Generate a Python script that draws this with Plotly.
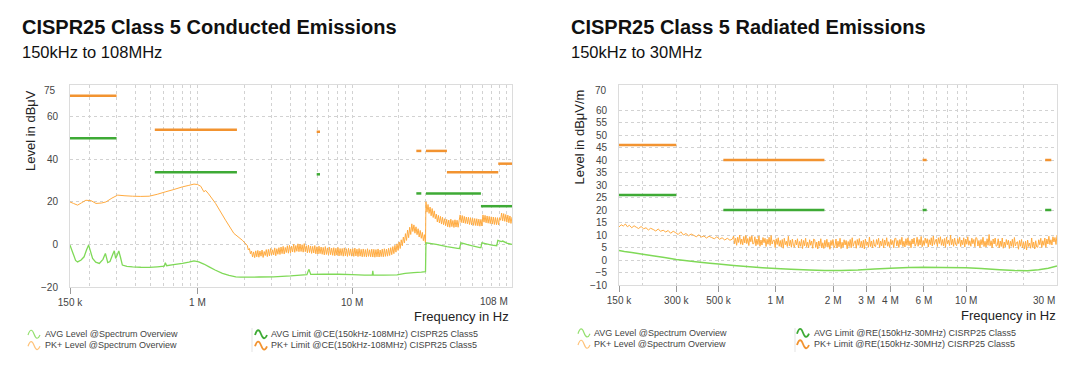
import math
import plotly.graph_objects as go

W, H = 1080, 378

# ---------------- Conducted emissions (left) : frequency in MHz, level in dBuV
ce_pk_smooth_f = [0.15, 0.158, 0.168, 0.178, 0.19, 0.205, 0.221, 0.24, 0.256, 0.28, 0.305, 0.34,
                  0.381, 0.43, 0.487, 0.55, 0.624, 0.7, 0.8, 0.88, 0.95, 1.0, 1.05, 1.1, 1.13,
                  1.18, 1.31, 1.52, 1.72, 1.95]
ce_pk_smooth_v = [20.0, 19.3, 18.5, 19.6, 20.8, 20.6, 19.3, 19.5, 20.0, 21.8, 23.2, 22.9,
                  22.7, 22.6, 22.7, 23.6, 24.8, 25.8, 27.1, 27.8, 28.4, 28.2, 27.4, 24.8, 25.4,
                  23.8, 19.3, 11.4, 5.2, 2.0]
# PK+ sweep 2.1 MHz .. 29.8 MHz (log spaced sweep points)
ce_pk_sweep1_range = [2.1, 29.8]
ce_pk_sweep1_v = [
    -0.5, -2.6, -1.9, -4.4, -3.1, -5.9, -3.5, -6.2, -3.0, -5.8,
    -2.8, -6.0, -3.1, -5.5, -2.6, -6.1, -3.3, -5.2, -2.4, -5.7,
    -2.3, -5.4, -1.9, -5.0, -2.5, -4.9, -1.6, -5.3, -2.0, -4.6,
    -1.5, -4.7, -1.2, -4.3, -0.9, -4.5, -1.4, -3.8, -0.6, -4.1,
    -0.4, -3.9, -0.8, -3.5, 0.1, -3.7, -0.5, -3.2, 0.3, -3.4,
    0.2, -3.3, -0.1, -3.6, 0.4, -3.4, -0.6, -3.9, -0.3, -3.8,
    -0.7, -4.2, -0.9, -4.0, -0.5, -4.4, -1.1, -4.5, -0.8, -4.3,
    -1.2, -4.6, -1.4, -4.9, -1.0, -4.7, -1.6, -5.0, -1.3, -4.8,
    -1.7, -5.1, -1.5, -5.3, -1.8, -5.0, -1.4, -5.4, -1.9, -5.2,
    -1.9, -5.5, -1.6, -5.3, -2.0, -5.6, -1.8, -5.2, -2.1, -5.5,
    -2.0, -5.6, -1.7, -5.4, -2.2, -5.7, -1.9, -5.5, -2.3, -5.8,
    -2.1, -5.7, -2.4, -5.9, -2.0, -5.6, -2.5, -5.8, -2.2, -5.9,
    -2.3, -6.0, -2.4, -5.8, -2.1, -5.9, -2.6, -5.7, -2.2, -5.8,
    -2.0, -5.6, -2.2, -5.5, -1.8, -5.2, -1.5, -4.8, -1.0, -4.3,
    -0.4, -3.6, 0.3, -2.8, 1.2, -1.9, 2.2, -0.6, 3.5, 0.7,
    5.1, 1.9, 6.8, 3.2, 8.1, 4.7, 9.7, 6.1, 9.2, 5.3,
    8.3, 4.6, 7.4, 3.5, 6.6, 2.9, 5.7, 1.8, 4.6, 0.4]
# PK+ sweep 30 MHz .. 108 MHz
ce_pk_sweep2_range = [30.0, 108.0]
ce_pk_sweep2_v = [
    20.1, 15.2, 18.8, 14.6, 17.6, 13.5, 16.9, 12.7, 15.8, 12.1,
    14.3, 10.6, 13.7, 10.1, 13.2, 9.6, 12.8, 9.3, 12.1, 8.9,
    11.8, 8.3, 11.5, 8.1, 11.9, 8.4, 11.3, 8.0, 11.6, 8.2,
    11.4, 8.1, 11.2, 13.9, 10.3, 13.6, 10.1, 13.2, 9.9, 12.9,
    9.7, 12.8, 9.4, 12.6, 9.2, 12.3, 9.0, 12.2, 8.9, 12.1,
    8.8, 11.9, 8.6, 11.8, 8.7, 13.9, 10.5, 13.7, 10.2, 13.4,
    10.0, 13.2, 9.8, 13.0, 9.6, 12.9, 9.4, 12.7, 9.3, 12.6,
    9.2, 12.5, 11.4, 14.8, 11.1, 14.5, 10.9, 14.1, 10.5, 13.8,
    10.2, 13.4, 9.9, 12.9]

ce_avg_f = [0.15, 0.157, 0.163, 0.168, 0.177, 0.185, 0.192, 0.198, 0.204, 0.21, 0.22, 0.232,
            0.245, 0.254, 0.259, 0.263, 0.272, 0.284, 0.29, 0.296, 0.303, 0.31, 0.318, 0.327,
            0.35, 0.381, 0.43, 0.487, 0.55, 0.61, 0.62, 0.632, 0.7, 0.8, 0.88, 0.95, 1.02,
            1.1, 1.19, 1.3, 1.45, 1.6, 1.77, 1.9, 2.5, 3.1, 4.0, 5.1, 5.25, 5.4, 6.5, 8.2,
            10.0, 12.0, 13.5, 13.6, 13.7, 16.0, 19.5, 22.0, 25.0, 28.0, 29.8,
            30.0, 35.0, 41.0, 48.0, 49.5, 50.5, 55.0, 60.0, 67.0, 68.0, 69.0, 75.0, 80.0,
            86.0, 87.5, 92.0, 94.0, 100.0, 108.0]
ce_avg_v = [-0.3, -4.2, -7.5, -8.2, -7.3, -5.8, -2.5, -0.3, -3.5, -6.6, -8.3, -8.9,
            -7.0, -4.2, -6.5, -8.5, -8.0, -4.5, -3.0, -6.6, -5.0, -3.0, -6.0, -9.7,
            -10.3, -10.5, -10.7, -10.8, -10.5, -10.2, -8.6, -10.0, -9.5, -8.9, -8.3, -7.7, -8.2,
            -9.2, -10.5, -12.0, -13.6, -14.5, -15.2, -15.4, -15.3, -15.2, -14.8, -14.2, -11.7, -14.1, -14.0, -14.0,
            -14.2, -14.4, -14.4, -12.4, -14.4, -14.4, -14.3, -13.6, -13.2, -13.0, -12.8,
            0.8, 0.0, -1.0, -1.8, -1.9, 0.8, 0.0, -0.7, -1.5, -1.5, 0.8, 0.2, -0.3,
            -0.6, 1.9, 1.4, 1.6, 0.6, 0.0]

ce_pk_lim_start = [0.15, 0.53, 5.9, 26, 30, 41, 88]
ce_pk_lim_stop = [0.30, 1.8, 6.2, 28, 41, 88, 108]
ce_pk_lim_level = [70, 54, 53, 44, 44, 34, 38]
ce_avg_lim_start = [0.15, 0.53, 5.9, 26, 30, 68]
ce_avg_lim_stop = [0.30, 1.8, 6.2, 28, 68, 108]
ce_avg_lim_level = [50, 34, 33, 24, 24, 18]

ce_xtick_vals = [0.15, 1, 10]
ce_xtick_text = ["150 k", "1 M", "10 M"]
ce_ytick_vals = [-20, 0, 20, 40, 60]

# ---------------- Radiated emissions (right) : frequency in MHz, level in dBuV/m
re_pk_low_f = [0.150, 0.154, 0.158, 0.162, 0.166, 0.170, 0.175, 0.180, 0.185, 0.190, 0.196, 0.202,
               0.208, 0.214, 0.220, 0.227, 0.234, 0.241, 0.248, 0.256, 0.264, 0.272, 0.280, 0.289,
               0.298, 0.307, 0.317, 0.327, 0.337, 0.348, 0.359, 0.370, 0.382, 0.394, 0.406, 0.419,
               0.432, 0.446, 0.460, 0.475, 0.490, 0.506, 0.522, 0.539, 0.556, 0.574, 0.592]
re_pk_low_v = [13.2, 14.1, 13.6, 14.4, 13.3, 13.9, 12.9, 13.7, 13.1, 12.6, 13.4, 12.5,
               12.9, 12.0, 12.7, 12.2, 11.6, 12.4, 11.5, 11.9, 11.2, 11.8, 10.7, 11.5,
               10.9, 10.2, 11.3, 10.0, 10.6, 9.7, 10.4, 9.9, 9.3, 10.1, 9.2, 9.6,
               8.8, 9.5, 9.0, 8.5, 9.3, 8.3, 8.9, 8.0, 8.7, 7.9, 8.4]
# dense PK+ sweep 0.6 MHz .. 30 MHz
re_pk_sweep_range = [0.6, 30.0]
re_pk_sweep_v = [
    9.6, 6.5, 8.7, 5.9, 9.1, 7.0, 10.0, 6.3, 8.4, 6.1, 9.4, 6.8, 9.8, 6.6, 8.6, 5.8, 9.3, 7.3, 9.7, 6.4,
    6.6, 9.3, 5.7, 8.4, 6.2, 9.6, 5.5, 8.0, 6.0, 9.0, 6.9, 8.7, 5.4, 8.3, 6.3, 9.1, 5.8, 9.8, 6.4, 7.8,
    8.0, 5.0, 8.5, 6.2, 8.9, 5.5, 7.8, 5.2, 8.2, 4.7, 8.7, 6.1, 7.5, 5.4, 9.5, 5.7, 7.9, 5.1, 8.4, 5.9,
    5.1, 8.0, 6.0, 8.5, 4.8, 7.4, 5.5, 8.3, 4.6, 7.8, 5.7, 8.7, 5.3, 7.1, 4.9, 8.1, 5.9, 7.6, 4.7, 8.4,
    8.1, 5.0, 7.2, 4.4, 7.6, 5.5, 8.5, 4.8, 6.9, 4.6, 7.9, 5.3, 8.3, 5.1, 7.1, 4.3, 7.8, 5.8, 8.2, 4.9,
    5.7, 8.4, 4.8, 7.5, 5.3, 8.7, 4.6, 7.1, 5.1, 8.1, 6.0, 7.8, 4.5, 7.4, 5.4, 8.2, 4.9, 8.9, 5.5, 6.9,
    7.7, 4.7, 8.2, 5.9, 8.6, 5.2, 7.5, 4.9, 7.9, 4.4, 8.4, 5.8, 7.2, 5.1, 9.2, 5.4, 7.6, 4.8, 8.1, 5.6,
    5.3, 8.2, 6.2, 8.7, 5.0, 7.6, 5.7, 8.5, 4.8, 8.0, 5.9, 8.9, 5.5, 7.3, 5.1, 8.3, 6.1, 7.8, 4.9, 8.6,
    8.7, 5.6, 7.8, 5.0, 8.2, 6.1, 9.1, 5.4, 7.5, 5.2, 8.5, 5.9, 8.9, 5.7, 7.7, 4.9, 8.4, 6.4, 8.8, 5.5,
    6.4, 9.1, 5.5, 8.2, 6.0, 9.4, 5.3, 7.8, 5.8, 8.8, 6.7, 8.5, 5.2, 8.1, 6.1, 8.9, 5.6, 9.6, 6.2, 7.6,
    8.4, 5.4, 8.9, 6.6, 9.3, 5.9, 8.2, 5.6, 8.6, 5.1, 9.1, 6.5, 7.9, 5.8, 9.9, 6.1, 8.3, 5.5, 8.8, 6.3,
    5.7, 8.6, 6.6, 9.1, 5.4, 8.0, 6.1, 8.9, 5.2, 8.4, 6.3, 9.3, 5.9, 7.7, 5.5, 8.7, 6.5, 8.2, 5.3, 9.0,
    8.7, 5.6, 7.8, 5.0, 8.2, 6.1, 9.1, 5.4, 7.5, 5.2, 8.5, 5.9, 10.2, 5.7, 7.7, 4.9, 8.4, 6.4, 8.8, 5.5,
    5.8, 8.5, 4.9, 7.6, 5.4, 8.8, 4.7, 7.2, 5.2, 8.2, 6.1, 7.9, 4.6, 7.5, 5.5, 8.3, 5.0, 9.0, 5.6, 7.0,
    7.3, 4.3, 7.8, 5.5, 8.2, 4.8, 7.1, 4.5, 7.5, 4.0, 8.0, 5.4, 6.8, 4.7, 8.8, 5.0, 7.2, 4.4, 7.7, 5.2,
    5.1, 8.1, 6.1, 8.7, 5.0, 7.7, 5.9, 8.8, 5.1, 8.4, 6.4, 9.5, 6.2, 8.1, 6.0, 9.3, 7.2, 9.0, 6.2, 10.0]

re_avg_f = [0.15, 0.16, 0.175, 0.2, 0.23, 0.26, 0.3, 0.35, 0.4, 0.45, 0.5, 0.6, 0.7, 0.85,
            1.0, 1.2, 1.5, 1.8, 2.2, 2.7, 3.3, 4.0, 5.0, 6.0, 7.5, 10.0, 12.0, 15.0, 18.0,
            21.0, 24.0, 27.0, 30.0]
re_avg_v = [3.8, 3.4, 3.0, 2.3, 1.6, 1.0, 0.2, -0.4, -0.9, -1.3, -1.6, -2.2, -2.6, -3.1,
            -3.4, -3.7, -4.0, -4.2, -4.2, -4.0, -3.6, -3.3, -3.0, -2.9, -3.0, -3.1, -3.4, -3.9, -4.2,
            -4.3, -3.9, -3.3, -2.4]

re_pk_lim_start = [0.15, 0.53, 5.9, 26]
re_pk_lim_stop = [0.30, 1.8, 6.2, 28]
re_pk_lim_level = [46, 40, 40, 40]
re_avg_lim_start = [0.15, 0.53, 5.9, 26]
re_avg_lim_stop = [0.30, 1.8, 6.2, 28]
re_avg_lim_level = [26, 20, 20, 20]

re_xtick_vals = [0.15, 0.3, 0.5, 1, 2, 3, 4, 6, 10]
re_xtick_text = ["150 k", "300 k", "500 k", "1 M", "2 M", "3 M", "4 M", "6 M", "10 M"]
re_ytick_vals = [-10, -5, 0, 5, 10, 15, 20, 25, 30, 35, 40, 45, 50, 55, 60]

# ---------------- styles
C_AVG_LVL = "#7fd957"
C_PK_LVL = "#ffab40"
C_AVG_LIM = "#3eaa35"
C_PK_LIM = "#f29330"
FONT = "Liberation Sans, Arial, sans-serif"


def sweep(rng, n):
    f0, f1 = rng
    return [f0 * (f1 / f0) ** (i / (n - 1)) for i in range(n)]


def segments(starts, stops, levels):
    xs, ys = [], []
    for a, b, l in zip(starts, stops, levels):
        xs += [a, b, None]
        ys += [l, l, None]
    return xs, ys


def minor_grid(lo, hi):
    vals = []
    dec = 0.1
    while dec < hi * 10:
        for m in range(1, 10):
            v = m * dec
            if lo * 1.001 < v < hi * 0.999:
                vals.append(round(v, 6))
        dec *= 10
    return vals


def level_line(color, width):
    return dict(color=color, width=width, simplify=False)


fig = go.Figure()

# left chart traces
ce_pk_f = ce_pk_smooth_f + sweep(ce_pk_sweep1_range, len(ce_pk_sweep1_v)) + sweep(ce_pk_sweep2_range, len(ce_pk_sweep2_v))
ce_pk_v = ce_pk_smooth_v + ce_pk_sweep1_v + ce_pk_sweep2_v
fig.add_trace(go.Scatter(x=ce_pk_f, y=ce_pk_v, mode="lines", line=level_line(C_PK_LVL, 1),
                         xaxis="x", yaxis="y", showlegend=False))
fig.add_trace(go.Scatter(x=ce_avg_f, y=ce_avg_v, mode="lines", line=level_line(C_AVG_LVL, 1.3),
                         xaxis="x", yaxis="y", showlegend=False))
x, y = segments(ce_pk_lim_start, ce_pk_lim_stop, ce_pk_lim_level)
fig.add_trace(go.Scatter(x=x, y=y, mode="lines", line=dict(color=C_PK_LIM, width=2.5),
                         xaxis="x", yaxis="y", showlegend=False, connectgaps=False))
x, y = segments(ce_avg_lim_start, ce_avg_lim_stop, ce_avg_lim_level)
fig.add_trace(go.Scatter(x=x, y=y, mode="lines", line=dict(color=C_AVG_LIM, width=2.5),
                         xaxis="x", yaxis="y", showlegend=False, connectgaps=False))

# right chart traces
re_pk_f = re_pk_low_f[:len(re_pk_low_v)] + sweep(re_pk_sweep_range, len(re_pk_sweep_v))
re_pk_v = re_pk_low_v[:len(re_pk_low_f)] + re_pk_sweep_v
fig.add_trace(go.Scatter(x=re_pk_f, y=re_pk_v, mode="lines",
                         line=level_line(C_PK_LVL, 1), xaxis="x2", yaxis="y2", showlegend=False))
fig.add_trace(go.Scatter(x=re_avg_f, y=re_avg_v, mode="lines", line=level_line(C_AVG_LVL, 1.3),
                         xaxis="x2", yaxis="y2", showlegend=False))
x, y = segments(re_pk_lim_start, re_pk_lim_stop, re_pk_lim_level)
fig.add_trace(go.Scatter(x=x, y=y, mode="lines", line=dict(color=C_PK_LIM, width=2.5),
                         xaxis="x2", yaxis="y2", showlegend=False, connectgaps=False))
x, y = segments(re_avg_lim_start, re_avg_lim_stop, re_avg_lim_level)
fig.add_trace(go.Scatter(x=x, y=y, mode="lines", line=dict(color=C_AVG_LIM, width=2.5),
                         xaxis="x2", yaxis="y2", showlegend=False, connectgaps=False))

GRID = "#d2d2d2"
FRAME = "#dcdcdc"
TICKFONT = dict(family=FONT, size=10, color="#444")


def xaxis_style(domain, rng, tv, tt, anchor):
    return dict(type="log", domain=domain, range=rng, anchor=anchor, automargin=False,
                tickmode="array", tickvals=tv, ticktext=tt, ticks="outside", ticklen=6,
                tickcolor="#9a9a9a", tickfont=TICKFONT,
                showgrid=True, gridcolor=GRID, griddash="dot", gridwidth=1,
                minor=dict(tickmode="array", tickvals=minor_grid(10 ** rng[0], 10 ** rng[1]),
                           showgrid=True, gridcolor=GRID, griddash="dot", gridwidth=1, ticks=""),
                showline=True, mirror=True, linecolor=FRAME, linewidth=1, zeroline=False)


def yaxis_style(domain, rng, tv, anchor):
    return dict(domain=domain, range=rng, anchor=anchor, automargin=False,
                tickmode="array", tickvals=tv,
                ticks="", tickfont=TICKFONT, ticklabelstandoff=9,
                showgrid=True, gridcolor=GRID, griddash="dot", gridwidth=1,
                showline=True, mirror=True, linecolor=FRAME, linewidth=1, zeroline=False)


fig.update_layout(
    width=W, height=H, margin=dict(l=0, r=0, t=0, b=0, pad=0, autoexpand=False),
    paper_bgcolor="white", plot_bgcolor="white",
    font=dict(family=FONT, color="#222"),
    xaxis=xaxis_style([70 / W, 512 / W], [math.log10(0.15), math.log10(108)], ce_xtick_vals, ce_xtick_text, "y"),
    yaxis=yaxis_style([1 - 287 / H, 1 - 85 / H], [-20, 75], ce_ytick_vals, "x"),
    xaxis2=xaxis_style([619 / W, 1057 / W], [math.log10(0.15), math.log10(30)], re_xtick_vals, re_xtick_text, "y2"),
    yaxis2=yaxis_style([1 - 285 / H, 1 - 85 / H], [-10, 70], re_ytick_vals, "x2"),
)


def px(x):
    return x / W


def py(y):
    return 1 - y / H


ann = []


def text(x, y, s, size, xanchor="left", bold=False, color="#111", angle=0, yanchor="middle"):
    ann.append(dict(x=px(x), y=py(y), xref="paper", yref="paper", text=("<b>%s</b>" % s) if bold else s,
                    showarrow=False, xanchor=xanchor, yanchor=yanchor, textangle=angle,
                    font=dict(family=FONT, size=size, color=color)))


# titles
text(20, 27, "CISPR25 Class 5 Conducted Emissions", 20, bold=True)
text(20, 52, "150kHz to 108MHz", 16.5)
text(569, 27, "CISPR25 Class 5 Radiated Emissions", 20, bold=True)
text(569, 52, "150kHz to 30MHz", 16.5)
# axis titles
text(31, 131, "Level in dBμV", 13, xanchor="center", angle=-90, color="#222")
text(579, 137.5, "Level in dBμV/m", 13, xanchor="center", angle=-90, color="#222")
text(511, 316, "Frequency in Hz", 13, xanchor="right", color="#222")
text(1058, 315, "Frequency in Hz", 13, xanchor="right", color="#222")
# edge tick labels (kept inside the frame like the original)
text(58, 90.7, "75", 10, xanchor="right", color="#444")
text(510, 301.7, "108 M", 10, xanchor="right", color="#444")
text(609, 90.7, "70", 10, xanchor="right", color="#444")
text(1057, 300.5, "30 M", 10, xanchor="right", color="#444")

# legends
shapes = []
legend_rows = [
    # (icon x, text x, y, label, color, width)
    (28, 42.5, 334, "AVG Level @Spectrum Overview", "#95e070", 1.2),
    (28, 42.5, 345.3, "PK+ Level @Spectrum Overview", "#ffc37a", 1.2),
    (255, 269, 334, "AVG Limit @CE(150kHz-108MHz) CISPR25 Class5", C_AVG_LIM, 1.8),
    (255, 269, 345.3, "PK+ Limit @CE(150kHz-108MHz) CISPR25 Class5", C_PK_LIM, 1.8),
    (578, 592, 332.7, "AVG Level @Spectrum Overview", "#95e070", 1.2),
    (578, 592, 344, "PK+ Level @Spectrum Overview", "#ffc37a", 1.2),
    (797, 811.5, 332.7, "AVG Limit @RE(150kHz-30MHz) CISRP25 Class5", C_AVG_LIM, 1.8),
    (797, 811.5, 344, "PK+ Limit @RE(150kHz-30MHz) CISRP25 Class5", C_PK_LIM, 1.8),
]
for ix, tx, yc, label, col, lw in legend_rows:
    path = "M %.5f %.5f Q %.5f %.5f %.5f %.5f T %.5f %.5f" % (
        px(ix), py(yc + 1), px(ix + 3), py(yc - 8), px(ix + 6), py(yc), px(ix + 12), py(yc + 1))
    shapes.append(dict(type="path", path=path, xref="paper", yref="paper",
                       line=dict(color=col, width=lw)))
    text(tx, yc, label, 9, color="#444")
for sx in (252, 795):
    shapes.append(dict(type="line", xref="paper", yref="paper", x0=px(sx), x1=px(sx),
                       y0=py(328), y1=py(352), line=dict(color="#e3e3e3", width=1)))

fig.update_layout(annotations=ann, shapes=shapes)

fig.write_html("out.html", config={"displayModeBar": False},
               post_script="document.body.style.margin='0';document.body.style.overflow='hidden';")
